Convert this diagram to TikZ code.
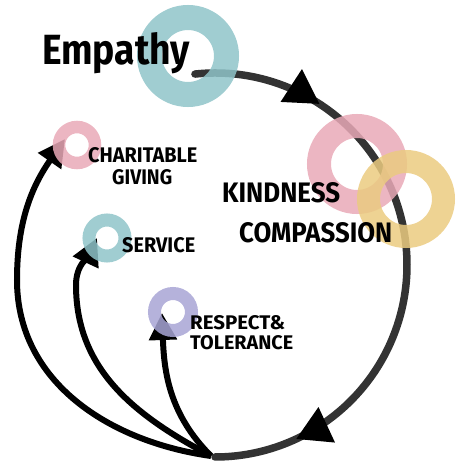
\documentclass[tikz,border=0pt]{standalone}
\usepackage{fontspec}
\setmainfont{Fira Sans}
\usetikzlibrary{arrows.meta,decorations.markings}
\definecolor{ringteal}{HTML}{8FC4C9}
\definecolor{ringpink}{HTML}{E9A9B7}
\definecolor{ringyellow}{HTML}{EBCB80}
\definecolor{ringpurple}{HTML}{A8A5D5}
\definecolor{arcgray}{HTML}{333333}
\newcommand{\fitlbl}[3]{\resizebox{#1pt}{#2pt}{#3}}
\begin{document}
\begin{tikzpicture}[x=1pt,y=1pt,
  ring/.style={line width=#1, opacity=0.85},
  bigflow/.style={line width=7.5pt, draw=arcgray, line cap=round},
  branch/.style={line width=6pt, draw=black, -{Triangle[length=27pt,width=27pt]}},
  lbl/.style={inner sep=0pt, anchor=base west, font=\bfseries}]
\useasboundingbox (0,0) rectangle (467,467);
% centres
\coordinate (hub) at (215,202);
\coordinate (empc) at (188,411);
\coordinate (kindc) at (357,303);
\coordinate (compc) at (406,268);
\coordinate (charc) at (77,322);
\coordinate (servc) at (107,229);
\coordinate (respc) at (173,155);
% connectors
\coordinate (arcstart) at ([shift={(hub)}]96:192);
\draw[bigflow, postaction={decorate}, decoration={markings,
   mark=at position 0.21 with {\arrow[black]{Triangle[length=34pt,width=37pt]}},
   mark=at position 0.866 with {\arrow[black]{Triangle[length=34pt,width=37pt]}}}]
  (arcstart) arc[start angle=96, end angle=-90, radius=192] coordinate (root);
\coordinate (r0) at (211,11);
\coordinate (m1) at (17,187);
\coordinate (e1) at (65,328);
\coordinate (m2) at (76,182);
\coordinate (e2) at (97,229);
\coordinate (e3) at (162,154);
\draw[branch] (r0) to[out=172,in=-90] (m1) to[out=90,in=235] (e1);
\draw[branch] (r0) to[out=152,in=-90] (m2) to[out=90,in=245] (e2);
\draw[branch] (r0) to[out=135,in=-88] (e3);
% rings
\draw[ring=25pt, draw=ringteal] (empc) circle[radius=38.5];
\draw[ring=24pt, draw=ringpink] (kindc) circle[radius=38];
\draw[ring=23pt, draw=ringyellow] (compc) circle[radius=37.5];
\draw[ring=12.5pt, draw=ringpink] (charc) circle[radius=18];
\draw[ring=13pt, draw=ringteal] (servc) circle[radius=18];
\draw[ring=13pt, draw=ringpurple] (respc) circle[radius=18.5];
% labels
\node[lbl] (emp) at (42,402) {\fitlbl{148}{32}{Empathy}};
\node[lbl] (char1) at (88,304) {\fitlbl{109}{15}{CHARITABLE}};
\node[lbl] (char2) at (112,282) {\fitlbl{60}{15}{GIVING}};
\node[lbl] (kind) at (222,264) {\fitlbl{118}{20}{KINDNESS}};
\node[lbl] (comp) at (239,224) {\fitlbl{153}{20}{COMPASSION}};
\node[lbl] (serv) at (122,214) {\fitlbl{73}{15}{SERVICE}};
\node[lbl] (resp1) at (190,137) {\fitlbl{95}{14}{RESPECT\&}};
\node[lbl] (resp2) at (190,117) {\fitlbl{103}{14}{TOLERANCE}};
\end{tikzpicture}
\end{document}
